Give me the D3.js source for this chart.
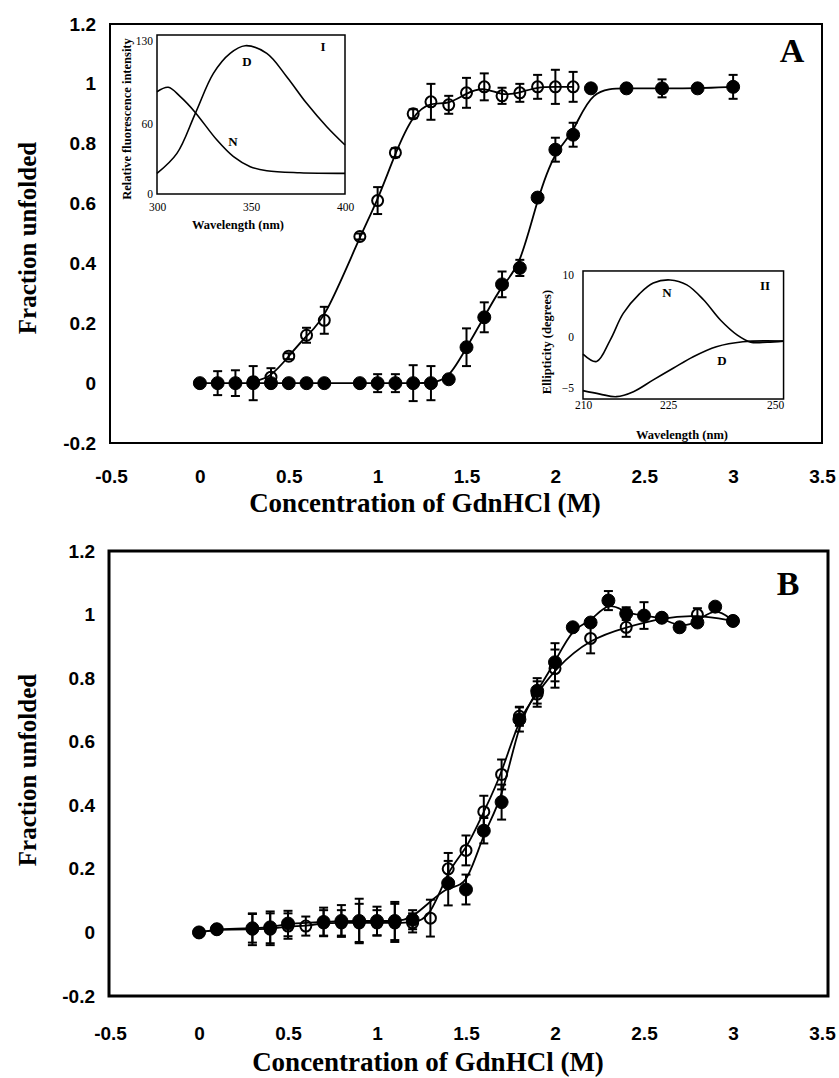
<!DOCTYPE html>
<html>
<head>
<meta charset="utf-8">
<script src="https://cdn.jsdelivr.net/npm/d3@7"></script>
<style>
  body { margin: 0; background: #fff; }
  svg { display: block; }
</style>
</head>
<body>
<svg id="chart" width="839" height="1078"></svg>
<script>
// ---- Axis ticks shared by both panels ----
const concTicks = [-0.5, 0, 0.5, 1, 1.5, 2, 2.5, 3, 3.5];
const fracTicks = [-0.2, 0, 0.2, 0.4, 0.6, 0.8, 1, 1.2];

// ---- Panel A: denaturation followed by fluorescence (open) and CD (filled) ----
const aOpenConc = [0.3, 0.4, 0.5, 0.6, 0.7, 0.9, 1.0, 1.1, 1.2, 1.3, 1.4, 1.5, 1.6, 1.7, 1.8, 1.9, 2.0, 2.1];
const aOpenFrac = [0.005, 0.02, 0.09, 0.16, 0.21, 0.49, 0.61, 0.77, 0.90, 0.94, 0.93, 0.97, 0.99, 0.96, 0.97, 0.99, 0.99, 0.99];
const aOpenErr  = [0, 0.03, 0.01, 0.025, 0.045, 0.01, 0.045, 0.015, 0.015, 0.06, 0.03, 0.05, 0.045, 0.027, 0.03, 0.04, 0.057, 0.05];

const aFilledConc = [0, 0.1, 0.2, 0.3, 0.4, 0.5, 0.6, 0.7, 0.9, 1.0, 1.1, 1.2, 1.3, 1.4, 1.5, 1.6, 1.7, 1.8, 1.9, 2.0, 2.1, 2.2, 2.4, 2.6, 2.8, 3.0];
const aFilledFrac = [0, 0, 0, 0, 0, 0, 0, 0, 0, 0, 0, 0, 0, 0.013, 0.12, 0.22, 0.33, 0.385, 0.62, 0.78, 0.83, 0.985, 0.985, 0.985, 0.985, 0.99];
const aFilledErr  = [0, 0.04, 0.043, 0.057, 0, 0, 0, 0, 0, 0.03, 0.03, 0.06, 0.057, 0, 0.063, 0.05, 0.043, 0.027, 0.01, 0.04, 0.04, 0.013, 0, 0.03, 0, 0.04];

// ---- Panel B ----
const bOpenConc = [0, 0.1, 0.3, 0.4, 0.5, 0.6, 0.7, 0.8, 0.9, 1.0, 1.1, 1.2, 1.3, 1.4, 1.5, 1.6, 1.7, 1.8, 1.9, 2.0, 2.2, 2.4, 2.6, 2.8, 3.0];
const bOpenFrac = [0, 0.01, 0.01, 0.01, 0.02, 0.02, 0.03, 0.03, 0.03, 0.03, 0.03, 0.03, 0.045, 0.20, 0.258, 0.38, 0.497, 0.68, 0.75, 0.83, 0.925, 0.96, 0.99, 1.0, 0.98];
const bOpenErr  = [0, 0, 0.05, 0.05, 0.04, 0.03, 0.04, 0.04, 0.06, 0.04, 0.06, 0.03, 0.058, 0.05, 0.047, 0.05, 0.047, 0.03, 0.04, 0.06, 0.047, 0.03, 0, 0.02, 0];

const bFilledConc = [0, 0.1, 0.3, 0.4, 0.5, 0.7, 0.8, 0.9, 1.0, 1.1, 1.2, 1.4, 1.5, 1.6, 1.7, 1.8, 1.9, 2.0, 2.1, 2.2, 2.3, 2.4, 2.5, 2.6, 2.7, 2.8, 2.9, 3.0];
const bFilledFrac = [0, 0.01, 0.013, 0.016, 0.028, 0.033, 0.036, 0.036, 0.036, 0.036, 0.04, 0.155, 0.135, 0.32, 0.41, 0.67, 0.76, 0.85, 0.96, 0.975, 1.044, 1.003, 0.997, 0.99, 0.96, 0.975, 1.025, 0.98];
const bFilledErr  = [0, 0, 0.045, 0.05, 0.04, 0.045, 0.05, 0.07, 0.045, 0.06, 0.03, 0.07, 0.047, 0.04, 0.055, 0.038, 0.04, 0.06, 0.01, 0.01, 0.03, 0.02, 0.042, 0, 0, 0, 0, 0];

// ---- Inset I: fluorescence emission spectra ----
const flTicksX = [300, 350, 400];
const flTicksY = [0, 60, 130];
const flWlN  = [300, 306, 312.4, 320, 331.9, 340.7, 349.6, 358.4, 376, 400];
const flIntN = [86.8, 90.6, 82.6, 69.9, 45.8, 31.7, 23.2, 19.8, 18.1, 17.5];
const flWlD  = [300, 310.6, 320.4, 330, 338.9, 346.9, 358.4, 369, 379.6, 390.3, 400];
const flIntD = [17.5, 34.5, 68.5, 102.4, 119.4, 125.9, 119.4, 99.6, 77, 57.1, 41.6];

// ---- Inset II: far-UV CD spectra ----
const cdTicksX = [210, 225, 250];
const cdTicksY = [-5, 0, 10];
const cdWlN  = [210, 212.4, 214.8, 217.1, 220, 222.4, 225.5, 229.4, 233.3, 237.3, 241.2, 244.3, 248.2, 252];
const cdEllN = [-1.67, -2.4, -0.3, 3.8, 7.0, 8.7, 9.2, 8.4, 6.0, 2.7, 0.3, -0.5, -0.5, -0.4];
const cdWlD  = [210, 213, 215.9, 218.9, 222.4, 226.2, 230.9, 236.3, 242.5, 252];
const cdEllD = [-5.26, -5.6, -5.85, -5.36, -4.2, -3.07, -1.93, -0.95, -0.46, -0.4];

const SANS = "'Liberation Sans', Arial, sans-serif";
const SERIF = "'Liberation Serif', 'Times New Roman', serif";
const svg = d3.select('#chart');

const zip = (xs, ys, es) => xs.map((x, i) => ({ x, y: ys[i], e: es ? es[i] : 0 }));
const fmtFrac = v => String(+v.toFixed(1));

function drawPanel(o) {
  const x = d3.scaleLinear().domain([-0.5, 3.5]).range(o.xRange);
  const y = d3.scaleLinear().domain([-0.2, 1.2]).range([o.bottom, o.top]);
  const g = svg.append('g');

  // y tick labels
  const gy = g.append('g').attr('transform', `translate(${o.left},0)`)
    .call(d3.axisLeft(y).tickValues(fracTicks).tickSize(0).tickPadding(14).tickFormat(fmtFrac));
  gy.select('.domain').remove();
  gy.attr('font-family', SANS).attr('font-size', 19).attr('font-weight', 'bold');
  gy.selectAll('text').attr('fill', '#000');

  // x tick labels
  const gx = g.append('g').attr('transform', `translate(0,${o.bottom})`)
    .call(d3.axisBottom(x).tickValues(concTicks).tickSize(0).tickPadding(o.xPad).tickFormat(fmtFrac));
  gx.select('.domain').remove();
  gx.attr('font-family', SANS).attr('font-size', 19).attr('font-weight', 'bold');
  gx.selectAll('text').attr('fill', '#000');

  // axis titles
  g.append('text').attr('x', o.titleX).attr('y', o.titleY)
    .attr('text-anchor', 'middle').attr('font-family', SERIF).attr('font-weight', 'bold')
    .attr('font-size', 27).text('Concentration of GdnHCl (M)');
  g.append('text').attr('transform', `translate(${o.yTitleX},${o.yTitleY}) rotate(-90)`)
    .attr('text-anchor', 'middle').attr('font-family', SERIF).attr('font-weight', 'bold')
    .attr('font-size', 25).text('Fraction unfolded');

  // frame
  g.append('rect').attr('x', o.left).attr('y', o.top)
    .attr('width', o.right - o.left).attr('height', o.bottom - o.top)
    .attr('fill', 'none').attr('stroke', '#000').attr('stroke-width', o.frameW);

  // panel letter
  g.append('text').attr('x', o.letterX).attr('y', o.letterY).attr('text-anchor', 'middle')
    .attr('font-family', SERIF).attr('font-weight', 'bold').attr('font-size', 34).text(o.letter);

  const line = d3.line().x(d => x(d.x)).y(d => y(d.y)).curve(d3.curveBasis);

  o.series.forEach(s => {
    g.append('path').datum(s.data).attr('d', line)
      .attr('fill', 'none').attr('stroke', '#000').attr('stroke-width', 1.8);
  });

  o.series.forEach(s => {
    const pts = g.append('g');
    const bars = s.data.filter(d => d.e > 0);
    pts.selectAll('line.bar').data(bars).join('line')
      .attr('x1', d => x(d.x)).attr('x2', d => x(d.x))
      .attr('y1', d => y(d.y - d.e)).attr('y2', d => y(d.y + d.e))
      .attr('stroke', '#000').attr('stroke-width', 2);
    [-1, 1].forEach(sg => {
      pts.selectAll(null).data(bars).join('line')
        .attr('x1', d => x(d.x) - 4.5).attr('x2', d => x(d.x) + 4.5)
        .attr('y1', d => y(d.y + sg * d.e)).attr('y2', d => y(d.y + sg * d.e))
        .attr('stroke', '#000').attr('stroke-width', 2);
    });
    pts.selectAll('circle').data(s.data).join('circle')
      .attr('cx', d => x(d.x)).attr('cy', d => y(d.y))
      .attr('r', s.filled ? 6.5 : 5.5)
      .attr('fill', s.filled ? '#000' : 'none')
      .attr('stroke', '#000').attr('stroke-width', s.filled ? 1 : 2);
  });
  return g;
}

drawPanel({
  left: 110, right: 822, top: 24, bottom: 443, xRange: [111, 822], frameW: 2, xPad: 27,
  titleX: 425, titleY: 512, yTitleX: 36, yTitleY: 238, letter: 'A', letterX: 792, letterY: 62,
  series: [
    { data: zip(aOpenConc, aOpenFrac, aOpenErr), filled: false },
    { data: zip(aFilledConc, aFilledFrac, aFilledErr), filled: true }
  ]
});

drawPanel({
  left: 109, right: 828, top: 551, bottom: 996, xRange: [110, 822], frameW: 3, xPad: 31,
  titleX: 428, titleY: 1071, yTitleX: 36, yTitleY: 770, letter: 'B', letterX: 788, letterY: 595,
  series: [
    { data: zip(bOpenConc, bOpenFrac, bOpenErr), filled: false },
    { data: zip(bFilledConc, bFilledFrac, bFilledErr), filled: true }
  ]
});

// ---- Insets ----
function drawInset(o) {
  const g = svg.append('g');
  const x = d3.scaleLinear().domain(o.xDom).range(o.xRange);
  const y = d3.scaleLinear().domain(o.yDom).range(o.yRange);
  const x0 = x(o.xBox[0]), x1 = x(o.xBox[1]), y0 = y(o.yBox[0]), y1 = y(o.yBox[1]);

  g.append('rect').attr('x', x0).attr('y', y1).attr('width', x1 - x0).attr('height', y0 - y1)
    .attr('fill', '#fff').attr('stroke', '#000').attr('stroke-width', 1.5);

  const gx = g.append('g').attr('transform', `translate(0,${y0})`)
    .call(d3.axisBottom(x).tickValues(o.xTicks).tickSize(0).tickPadding(o.xPad));
  gx.select('.domain').remove();
  gx.attr('font-family', SERIF).attr('font-size', 11.5);
  gx.selectAll('text').attr('fill', '#000');

  const gy = g.append('g').attr('transform', `translate(${x0},0)`)
    .call(d3.axisLeft(y).tickValues(o.yTicks).tickSize(0).tickPadding(o.yPad));
  gy.select('.domain').remove();
  gy.attr('font-family', SERIF).attr('font-size', 11.5);
  gy.selectAll('text').attr('fill', '#000');

  g.append('text').attr('x', o.xLabel[0]).attr('y', o.xLabel[1]).attr('text-anchor', 'middle')
    .attr('font-family', SERIF).attr('font-weight', 'bold').attr('font-size', 12.5).text('Wavelength (nm)');
  g.append('text').attr('transform', `translate(${o.yLabel[0]},${o.yLabel[1]}) rotate(-90)`)
    .attr('text-anchor', 'middle').attr('font-family', SERIF).attr('font-weight', 'bold')
    .attr('font-size', 12.5).text(o.yTitle);

  const line = d3.line().x(d => x(d.x)).y(d => y(d.y)).curve(d3.curveCatmullRom);
  o.curves.forEach(c => {
    g.append('path').datum(c).attr('d', line).attr('fill', 'none')
      .attr('stroke', '#000').attr('stroke-width', 1.6);
  });
  o.labels.forEach(l => {
    g.append('text').attr('x', l[0]).attr('y', l[1]).attr('text-anchor', 'middle')
      .attr('font-family', SERIF).attr('font-weight', 'bold').attr('font-size', 13).text(l[2]);
  });
}

drawInset({
  xDom: [300, 400], xRange: [157, 345], yDom: [0, 135], yRange: [194, 35],
  xBox: [300, 400], yBox: [0, 135], xTicks: flTicksX, yTicks: flTicksY, xPad: 9, yPad: 4,
  xLabel: [238, 229], yLabel: [131, 119], yTitle: 'Relative fluorescence intensity',
  curves: [zip(flWlN, flIntN), zip(flWlD, flIntD)],
  labels: [[247, 66, 'D'], [233, 146, 'N'], [323, 51, 'I']]
});

drawInset({
  xDom: [210, 225, 250], xRange: [583, 668, 775], yDom: [-5, 0, 10], yRange: [388, 337, 275],
  xBox: [210, 252], yBox: [-6.08, 10.65], xTicks: cdTicksX, yTicks: cdTicksY, xPad: 2, yPad: 9,
  xLabel: [682, 439], yLabel: [551, 342], yTitle: 'Ellipticity (degrees)',
  curves: [zip(cdWlN, cdEllN), zip(cdWlD, cdEllD)],
  labels: [[667, 297, 'N'], [722, 365, 'D'], [765, 290, 'II']]
});
</script>
</body>
</html>
